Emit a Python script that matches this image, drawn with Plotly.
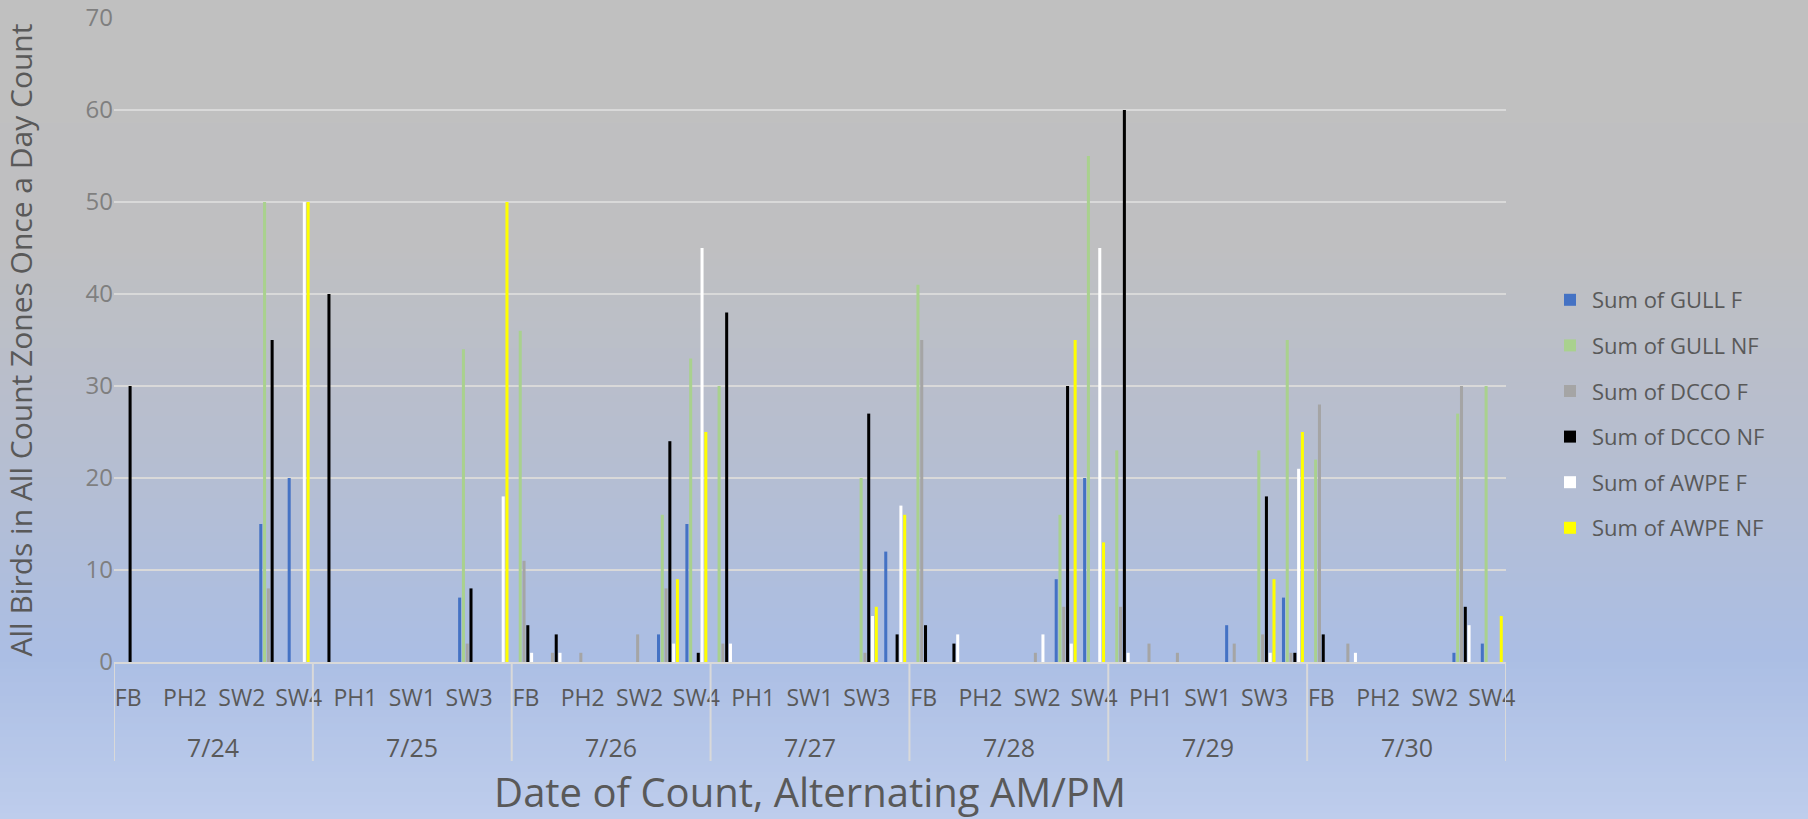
import plotly.graph_objects as go

dates = ["7/24", "7/25", "7/26", "7/27", "7/28", "7/29", "7/30"]
sites = ["FB", "PH1", "PH2", "SW1", "SW2", "SW3", "SW4"]

# one row per date, one value per site (FB, PH1, PH2, SW1, SW2, SW3, SW4)
gull_f = [
    [0, 0, 0, 0, 0, 15, 20],
    [0, 0, 0, 0, 0, 7, 0],
    [0, 0, 0, 0, 0, 3, 15],
    [0, 0, 0, 0, 0, 0, 12],
    [0, 0, 0, 0, 0, 9, 20],
    [0, 0, 0, 0, 4, 0, 7],
    [0, 0, 0, 0, 0, 1, 2],
]
gull_nf = [
    [0, 0, 0, 0, 0, 50, 0],
    [0, 0, 0, 0, 0, 34, 0],
    [36, 0, 0, 0, 0, 16, 33],
    [30, 0, 0, 0, 0, 20, 0],
    [41, 0, 0, 0, 0, 16, 55],
    [23, 0, 0, 0, 0, 23, 35],
    [22, 0, 0, 0, 0, 27, 30],
]
dcco_f = [
    [0, 0, 0, 0, 0, 8, 0],
    [0, 0, 0, 0, 0, 2, 0],
    [11, 1, 1, 0, 3, 8, 0],
    [2, 0, 0, 0, 0, 1, 0],
    [35, 0, 0, 0, 1, 6, 0],
    [6, 2, 1, 0, 2, 3, 1],
    [28, 2, 0, 0, 0, 30, 0],
]
dcco_nf = [
    [30, 0, 0, 0, 0, 35, 0],
    [40, 0, 0, 0, 0, 8, 0],
    [4, 3, 0, 0, 0, 24, 1],
    [38, 0, 0, 0, 0, 27, 3],
    [4, 2, 0, 0, 0, 30, 0],
    [60, 0, 0, 0, 0, 18, 1],
    [3, 0, 0, 0, 0, 6, 0],
]
awpe_f = [
    [0, 0, 0, 0, 0, 0, 50],
    [0, 0, 0, 0, 0, 0, 18],
    [1, 1, 0, 0, 0, 2, 45],
    [2, 0, 0, 0, 0, 5, 17],
    [0, 3, 0, 0, 3, 2, 45],
    [1, 0, 0, 0, 0, 1, 21],
    [0, 1, 0, 0, 0, 4, 0],
]
awpe_nf = [
    [0, 0, 0, 0, 0, 0, 50],
    [0, 0, 0, 0, 0, 0, 50],
    [0, 0, 0, 0, 0, 9, 25],
    [0, 0, 0, 0, 0, 6, 16],
    [0, 0, 0, 0, 0, 35, 13],
    [0, 0, 0, 0, 0, 9, 25],
    [0, 0, 0, 0, 0, 0, 5],
]

series = [
    ("Sum of GULL F", gull_f, "#4472c4"),
    ("Sum of GULL NF", gull_nf, "#a9d18e"),
    ("Sum of DCCO F", dcco_f, "#a5a5a5"),
    ("Sum of DCCO NF", dcco_nf, "#000000"),
    ("Sum of AWPE F", awpe_f, "#ffffff"),
    ("Sum of AWPE NF", awpe_nf, "#ffff00"),
]

n_sites = len(sites)
positions = [d * n_sites + s for d in range(len(dates)) for s in range(n_sites)]

fig = go.Figure()
for name, vals, color in series:
    flat = [v for row in vals for v in row]
    fig.add_trace(go.Bar(
        x=positions, y=flat, name=name, legendgroup=name,
        marker=dict(color=color, line=dict(width=0)),
        hoverinfo="skip",
    ))

W, H = 1808, 819
ML, MR, MT, MB = 114, 302, 18, 157
PW, PH = W - ML - MR, H - MT - MB

# background gradient (grey top -> blue bottom)
stops = [(0.0, (192, 192, 192)), (0.30, (191, 191, 193)), (0.55, (182, 190, 208)),
         (0.80, (171, 190, 228)), (1.0, (190, 205, 236))]


def grad(t):
    for (t0, c0), (t1, c1) in zip(stops[:-1], stops[1:]):
        if t0 <= t <= t1:
            f = (t - t0) / (t1 - t0)
            return "rgb(%d,%d,%d)" % tuple(round(a + (b - a) * f) for a, b in zip(c0, c1))
    return "rgb(%d,%d,%d)" % stops[-1][1]


shapes = []
N = 120
for k in range(N):
    ytop = k * H / N
    ybot = (k + 1) * H / N + 1
    shapes.append(dict(
        type="rect", xref="paper", yref="paper", layer="below",
        x0=-ML / PW - 0.01, x1=(W - ML) / PW + 0.01,
        y0=(H - MB - ybot) / PH, y1=(H - MB - ytop) / PH,
        fillcolor=grad((k + 0.5) / N), line=dict(width=0),
    ))

# category table dividers
div_bottom = -(761 - (H - MB)) / PH
for d in range(len(dates) + 1):
    shapes.append(dict(
        type="line", xref="x", yref="paper",
        x0=d * n_sites - 0.5, x1=d * n_sites - 0.5, y0=0, y1=div_bottom,
        line=dict(color="#d9d9d9", width=2),
    ))

annotations = []
for d, lab in enumerate(dates):
    annotations.append(dict(
        x=d * n_sites + 3, xref="x", y=-(747 - (H - MB)) / PH, yref="paper",
        text=lab, showarrow=False, xanchor="center", yanchor="middle",
        font=dict(size=25, color="#595959"),
    ))

tickvals = positions[::2]
ticktext = [sites[p % n_sites] for p in tickvals]

fig.update_layout(
    width=W, height=H,
    margin=dict(l=ML, r=MR, t=MT, b=MB, autoexpand=False),
    barmode="group", bargap=0.2, bargroupgap=0.2,
    paper_bgcolor="#c0c0c0", plot_bgcolor="rgba(0,0,0,0)",
    font=dict(family="Open Sans", color="#595959"),
    shapes=shapes, annotations=annotations,
    showlegend=True,
    legend=dict(
        x=(1548 - ML) / PW, xanchor="left", y=(H - MB - 414) / PH, yanchor="middle",
        bgcolor="rgba(0,0,0,0)", font=dict(size=22, color="#595959"),
        traceorder="grouped", tracegroupgap=14, itemwidth=34,
    ),
    xaxis=dict(
        range=[-0.5, len(positions) - 0.5], automargin=False,
        tickmode="array", tickvals=tickvals, ticktext=ticktext,
        tickfont=dict(size=23, color="#595959"),
        ticks="outside", ticklen=14, tickcolor="rgba(0,0,0,0)",
        showgrid=False, zeroline=False,
        showline=True, linecolor="#d9d9d9", linewidth=2,
        title=dict(text="Date of Count, Alternating AM/PM",
                   font=dict(size=40, color="#595959"), standoff=68),
    ),
    yaxis=dict(
        range=[0, 70], dtick=10, automargin=False,
        tickfont=dict(size=24, color="#7f7f7f"),
        showgrid=True, gridcolor="#d9d9d9", gridwidth=2,
        zeroline=False, showline=False, ticks="",
        title=dict(text="All Birds in All Count Zones Once a Day Count",
                   font=dict(size=30, color="#595959"), standoff=45),
    ),
)

fig.write_html(
    "out.html",
    config={"displayModeBar": False},
    post_script=("document.body.style.margin='0px';"
                 "document.body.style.overflow='hidden';"
                 "document.documentElement.style.overflow='hidden';"),
)
